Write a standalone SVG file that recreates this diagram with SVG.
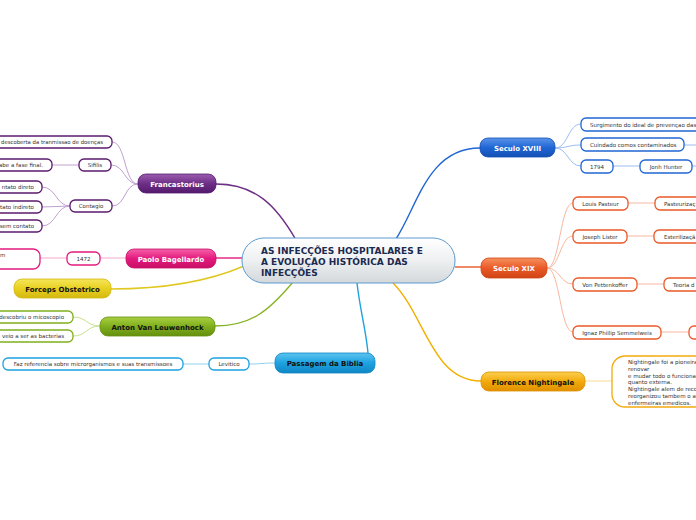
<svg xmlns="http://www.w3.org/2000/svg" width="696" height="520" viewBox="0 0 696 520">
<defs>
<linearGradient id="gC" x1="0" y1="0" x2="0" y2="1"><stop offset="0" stop-color="#ffffff"/><stop offset="0.5" stop-color="#eef0f1"/><stop offset="1" stop-color="#d3d8db"/></linearGradient>
<linearGradient id="gPu" x1="0" y1="0" x2="0" y2="1"><stop offset="0" stop-color="#9a5cb0"/><stop offset="0.5" stop-color="#6e2f86"/><stop offset="1" stop-color="#541a6c"/></linearGradient>
<linearGradient id="gPk" x1="0" y1="0" x2="0" y2="1"><stop offset="0" stop-color="#f560a8"/><stop offset="0.5" stop-color="#e41a7e"/><stop offset="1" stop-color="#c80f66"/></linearGradient>
<linearGradient id="gYe" x1="0" y1="0" x2="0" y2="1"><stop offset="0" stop-color="#f5e65a"/><stop offset="0.5" stop-color="#e8d020"/><stop offset="1" stop-color="#d4b810"/></linearGradient>
<linearGradient id="gGr" x1="0" y1="0" x2="0" y2="1"><stop offset="0" stop-color="#a8d040"/><stop offset="0.5" stop-color="#80ae1e"/><stop offset="1" stop-color="#64900e"/></linearGradient>
<linearGradient id="gLb" x1="0" y1="0" x2="0" y2="1"><stop offset="0" stop-color="#5cc4f0"/><stop offset="0.5" stop-color="#1ea2e0"/><stop offset="1" stop-color="#1086c4"/></linearGradient>
<linearGradient id="gBl" x1="0" y1="0" x2="0" y2="1"><stop offset="0" stop-color="#5a94ea"/><stop offset="0.5" stop-color="#2066d4"/><stop offset="1" stop-color="#1450b4"/></linearGradient>
<linearGradient id="gOr" x1="0" y1="0" x2="0" y2="1"><stop offset="0" stop-color="#f5915e"/><stop offset="0.5" stop-color="#ea5a28"/><stop offset="1" stop-color="#d04414"/></linearGradient>
<linearGradient id="gFl" x1="0" y1="0" x2="0" y2="1"><stop offset="0" stop-color="#fbd050"/><stop offset="0.5" stop-color="#f2aa0c"/><stop offset="1" stop-color="#e09000"/></linearGradient>
</defs>
<style>
text{font-family:"DejaVu Sans","Verdana",sans-serif;}
.ct{font-size:9px;font-weight:bold;fill:#1a2a50;}
.m{font-size:7px;font-weight:bold;text-anchor:middle;}
.w{fill:#ffffff;}
.d{fill:#111111;}
.s{font-size:5.5px;fill:#333333;}
.sm{font-size:5.5px;fill:#333333;text-anchor:middle;}
.se{font-size:5.5px;fill:#333333;text-anchor:end;}
.box{fill:#ffffff;stroke-width:1.3;}
.c{fill:none;stroke-width:1.4;}
.cc{fill:none;stroke-width:1;}
</style>
<g id="connectors">
<path class="c" stroke="#6e2f86" d="M216,184 C255,184 276,205 296,240"/>
<path class="c" stroke="#e41a7e" d="M216,258 L243,258"/>
<path class="c" stroke="#e0c820" d="M244,266 C200,285 150,289 111,289"/>
<path class="c" stroke="#88b428" d="M293,282 C268,312 250,326 215,326"/>
<path class="c" stroke="#1ea2e0" d="M357,283 C360,310 366,330 368,353"/>
<path class="c" stroke="#2066d4" d="M396,239 C418,205 428,148 480,148"/>
<path class="c" stroke="#ea5a28" d="M455,267 L481,267"/>
<path class="c" stroke="#f2b000" d="M393,283 C425,315 432,381 481,381"/>
<g stroke="#c0a0d0">
<path class="cc" d="M138,184 C124,184 126,142 112,142"/>
<path class="cc" d="M138,184 C124,184 125,165 111,165"/>
<path class="cc" d="M138,184 C124,184 126,206 112,206"/>
<path class="cc" d="M79,165 L52,165"/>
<path class="cc" d="M70,206 C56,206 56,187 42,187"/>
<path class="cc" d="M70,206 L42,207"/>
<path class="cc" d="M70,206 C56,206 56,226 42,226"/>
</g>
<g stroke="#f5a8cc">
<path class="cc" d="M126,258 L100,258"/>
<path class="cc" d="M67,258 L40,258"/>
</g>
<g stroke="#c8e090">
<path class="cc" d="M100,326 C86,326 87,317 73,317"/>
<path class="cc" d="M100,326 C86,326 87,336 73,336"/>
</g>
<g stroke="#90d0f0">
<path class="cc" d="M275,363 C262,363 262,364 249,364"/>
<path class="cc" d="M209,364 L183,364"/>
</g>
<g stroke="#9cbcf0">
<path class="cc" d="M555,148 C568,148 568,124 581,124"/>
<path class="cc" d="M555,148 C568,148 568,145 581,145"/>
<path class="cc" d="M555,148 C568,148 568,166 581,166"/>
<path class="cc" d="M613,166 L640,166"/>
<path class="cc" d="M684,145 L696,145"/>
<path class="cc" d="M692,166 L696,166"/>
</g>
<g stroke="#f8b8a0">
<path class="cc" d="M547,268 C560,268 560,203 573,203"/>
<path class="cc" d="M547,268 C560,268 560,236 573,236"/>
<path class="cc" d="M547,268 C560,268 560,284 573,284"/>
<path class="cc" d="M547,268 C560,268 560,332 573,332"/>
<path class="cc" d="M628,203 L655,203"/>
<path class="cc" d="M627,236 L654,236"/>
<path class="cc" d="M637,284 L664,284"/>
<path class="cc" d="M661,332 L689,332"/>
</g>
<path class="cc" stroke="#f8d890" d="M585,381 L612,381"/>
</g>
<g id="center">
<rect x="242" y="238" width="213" height="45" rx="22" fill="url(#gC)" stroke="#5a9ad0" stroke-width="1"/>
<text class="ct" x="261" y="254">AS INFECÇÕES HOSPITALARES E</text>
<text class="ct" x="261" y="265">A EVOLUÇÃO HISTÓRICA DAS</text>
<text class="ct" x="261" y="276">INFECÇÕES</text>
</g>
<g id="francastorius">
<rect x="138" y="174" width="78" height="19" rx="8" fill="url(#gPu)" stroke="#541a6c" stroke-width="0.8"/>
<text class="m w" x="177" y="186.5">Francastorius</text>
</g>
<g id="fr-descoberta">
<rect class="box" stroke="#5a1a6e" x="-20" y="136" width="132" height="12" rx="5"/>
<text class="s" x="1" y="144" textLength="102" lengthAdjust="spacingAndGlyphs">descoberta da tranmissao de doenças</text>
</g>
<g id="fr-sifilis">
<rect class="box" stroke="#5a1a6e" x="79" y="159" width="32" height="12" rx="5"/>
<text class="sm" x="95" y="167">Sifilis</text>
</g>
<g id="fr-fase">
<rect class="box" stroke="#5a1a6e" x="-20" y="159" width="72" height="12" rx="5"/>
<text class="se" x="43" y="167">abe a fase final.</text>
</g>
<g id="fr-contagio">
<rect class="box" stroke="#5a1a6e" x="70" y="200" width="42" height="12" rx="5"/>
<text class="sm" x="91" y="208">Contagio</text>
</g>
<g id="fr-direto">
<rect class="box" stroke="#5a1a6e" x="-20" y="181" width="62" height="12" rx="5"/>
<text class="se" x="34" y="189">ntato direto</text>
</g>
<g id="fr-indireto">
<rect class="box" stroke="#5a1a6e" x="-20" y="201" width="62" height="12" rx="5"/>
<text class="se" x="34" y="209">tato indireto</text>
</g>
<g id="fr-sem">
<rect class="box" stroke="#5a1a6e" x="-20" y="220" width="62" height="12" rx="5"/>
<text class="se" x="34" y="228">sem contato</text>
</g>
<g id="paolo">
<rect x="126" y="249" width="90" height="19" rx="8" fill="url(#gPk)" stroke="#c80f66" stroke-width="0.8"/>
<text class="m w" x="171" y="261.5">Paolo Bagellardo</text>
</g>
<g id="pa-1472">
<rect class="box" stroke="#e41a7e" x="67" y="252" width="33" height="13" rx="5"/>
<text class="sm" x="83.5" y="260.5">1472</text>
</g>
<g id="pa-text">
<rect class="box" stroke="#e41a7e" x="-20" y="249" width="60" height="20" rx="7"/>
<text class="s" x="0" y="257">m</text>
</g>
<g id="forceps">
<rect x="14" y="279" width="97" height="19" rx="8" fill="url(#gYe)" stroke="#d4b810" stroke-width="0.8"/>
<text class="m d" x="62.5" y="291.5">Forceps Obstetrico</text>
</g>
<g id="anton">
<rect x="100" y="317" width="115" height="19" rx="8" fill="url(#gGr)" stroke="#64900e" stroke-width="0.8"/>
<text class="m d" x="157.5" y="329.5">Anton Van Leuwenhock</text>
</g>
<g id="an-microscopio">
<rect class="box" stroke="#80ae1e" x="-20" y="311" width="93" height="12" rx="5"/>
<text class="se" x="64" y="319">descobriu o micoscopio</text>
</g>
<g id="an-bacterias">
<rect class="box" stroke="#80ae1e" x="-20" y="330" width="93" height="12" rx="5"/>
<text class="se" x="64" y="338">veio a ser as bacterias</text>
</g>
<g id="passagem">
<rect x="275" y="353" width="100" height="20" rx="8" fill="url(#gLb)" stroke="#1086c4" stroke-width="0.8"/>
<text class="m d" x="325" y="366">Passagem da Biblia</text>
</g>
<g id="pb-levitico">
<rect class="box" stroke="#1ea2e0" x="209" y="358" width="40" height="12" rx="5"/>
<text class="sm" x="229" y="366">Levitico</text>
</g>
<g id="pb-faz">
<rect class="box" stroke="#1ea2e0" x="3" y="358" width="180" height="12" rx="5"/>
<text class="sm" x="93" y="366">Faz referencia sobre microrganismos e suas transmissoes</text>
</g>
<g id="seculo18">
<rect x="480" y="138" width="75" height="19" rx="8" fill="url(#gBl)" stroke="#1450b4" stroke-width="0.8"/>
<text class="m w" x="517.5" y="150.5">Seculo XVIII</text>
</g>
<g id="s18-surgimento">
<rect class="box" stroke="#2066d4" x="581" y="118" width="130" height="13" rx="5"/>
<text class="s" x="590" y="126.5">Surgimento do ideal de prevençao das</text>
</g>
<g id="s18-cuindado">
<rect class="box" stroke="#2066d4" x="581" y="138" width="103" height="13" rx="5"/>
<text class="s" x="590" y="146.5">Cuindado comos contaminados</text>
</g>
<g id="s18-1794">
<rect class="box" stroke="#2066d4" x="581" y="160" width="32" height="13" rx="5"/>
<text class="sm" x="597" y="168.5">1794</text>
</g>
<g id="s18-hunter">
<rect class="box" stroke="#2066d4" x="640" y="160" width="52" height="13" rx="5"/>
<text class="sm" x="666" y="168.5">Jonh Hunter</text>
</g>
<g id="seculo19">
<rect x="481" y="258" width="66" height="20" rx="8" fill="url(#gOr)" stroke="#d04414" stroke-width="0.8"/>
<text class="m w" x="514" y="271">Seculo XIX</text>
</g>
<g id="s19-pasteur">
<rect class="box" stroke="#ea5a28" x="573" y="197" width="55" height="13" rx="5"/>
<text class="sm" x="600.5" y="205.5">Louis Pasteur</text>
</g>
<g id="s19-pasteurizacao">
<rect class="box" stroke="#ea5a28" x="655" y="197" width="60" height="13" rx="5"/>
<text class="s" x="664" y="205.5">Pasteurizaç</text>
</g>
<g id="s19-lister">
<rect class="box" stroke="#ea5a28" x="573" y="230" width="54" height="13" rx="5"/>
<text class="sm" x="600" y="238.5">Joseph Lister</text>
</g>
<g id="s19-esterilizacao">
<rect class="box" stroke="#ea5a28" x="654" y="230" width="60" height="13" rx="5"/>
<text class="s" x="664" y="238.5">Esterilizaçã</text>
</g>
<g id="s19-pettenkoffer">
<rect class="box" stroke="#ea5a28" x="573" y="278" width="64" height="13" rx="5"/>
<text class="sm" x="605" y="286.5">Von Pettenkoffer</text>
</g>
<g id="s19-teoria">
<rect class="box" stroke="#ea5a28" x="664" y="278" width="60" height="13" rx="5"/>
<text class="s" x="673" y="286.5">Teoria d</text>
</g>
<g id="s19-semmelweis">
<rect class="box" stroke="#ea5a28" x="573" y="326" width="88" height="13" rx="5"/>
<text class="sm" x="617" y="334.5">Ignaz Phillip Semmelweis</text>
</g>
<g id="s19-semmelweis-child">
<rect class="box" stroke="#ea5a28" x="689" y="326" width="30" height="13" rx="5"/>
</g>
<g id="florence">
<rect x="481" y="372" width="104" height="19" rx="8" fill="url(#gFl)" stroke="#e09000" stroke-width="0.8"/>
<text class="m d" x="533" y="384.5">Florence Nightingale</text>
</g>
<g id="fl-text">
<rect class="box" stroke="#f2aa0c" x="612" y="356" width="110" height="51" rx="13"/>
<text class="s" x="628" y="364">Nightingale foi a pioneira</text>
<text class="s" x="628" y="370.5">renovar</text>
<text class="s" x="628" y="377.5">e mudar todo o funciona</text>
<text class="s" x="628" y="384">quanto externa.</text>
<text class="s" x="628" y="391">Nightingale alem de reco</text>
<text class="s" x="628" y="397.5">reorganizou tambem o a</text>
<text class="s" x="628" y="404.5">enfermeiras emedicos.</text>
</g>
</svg>
